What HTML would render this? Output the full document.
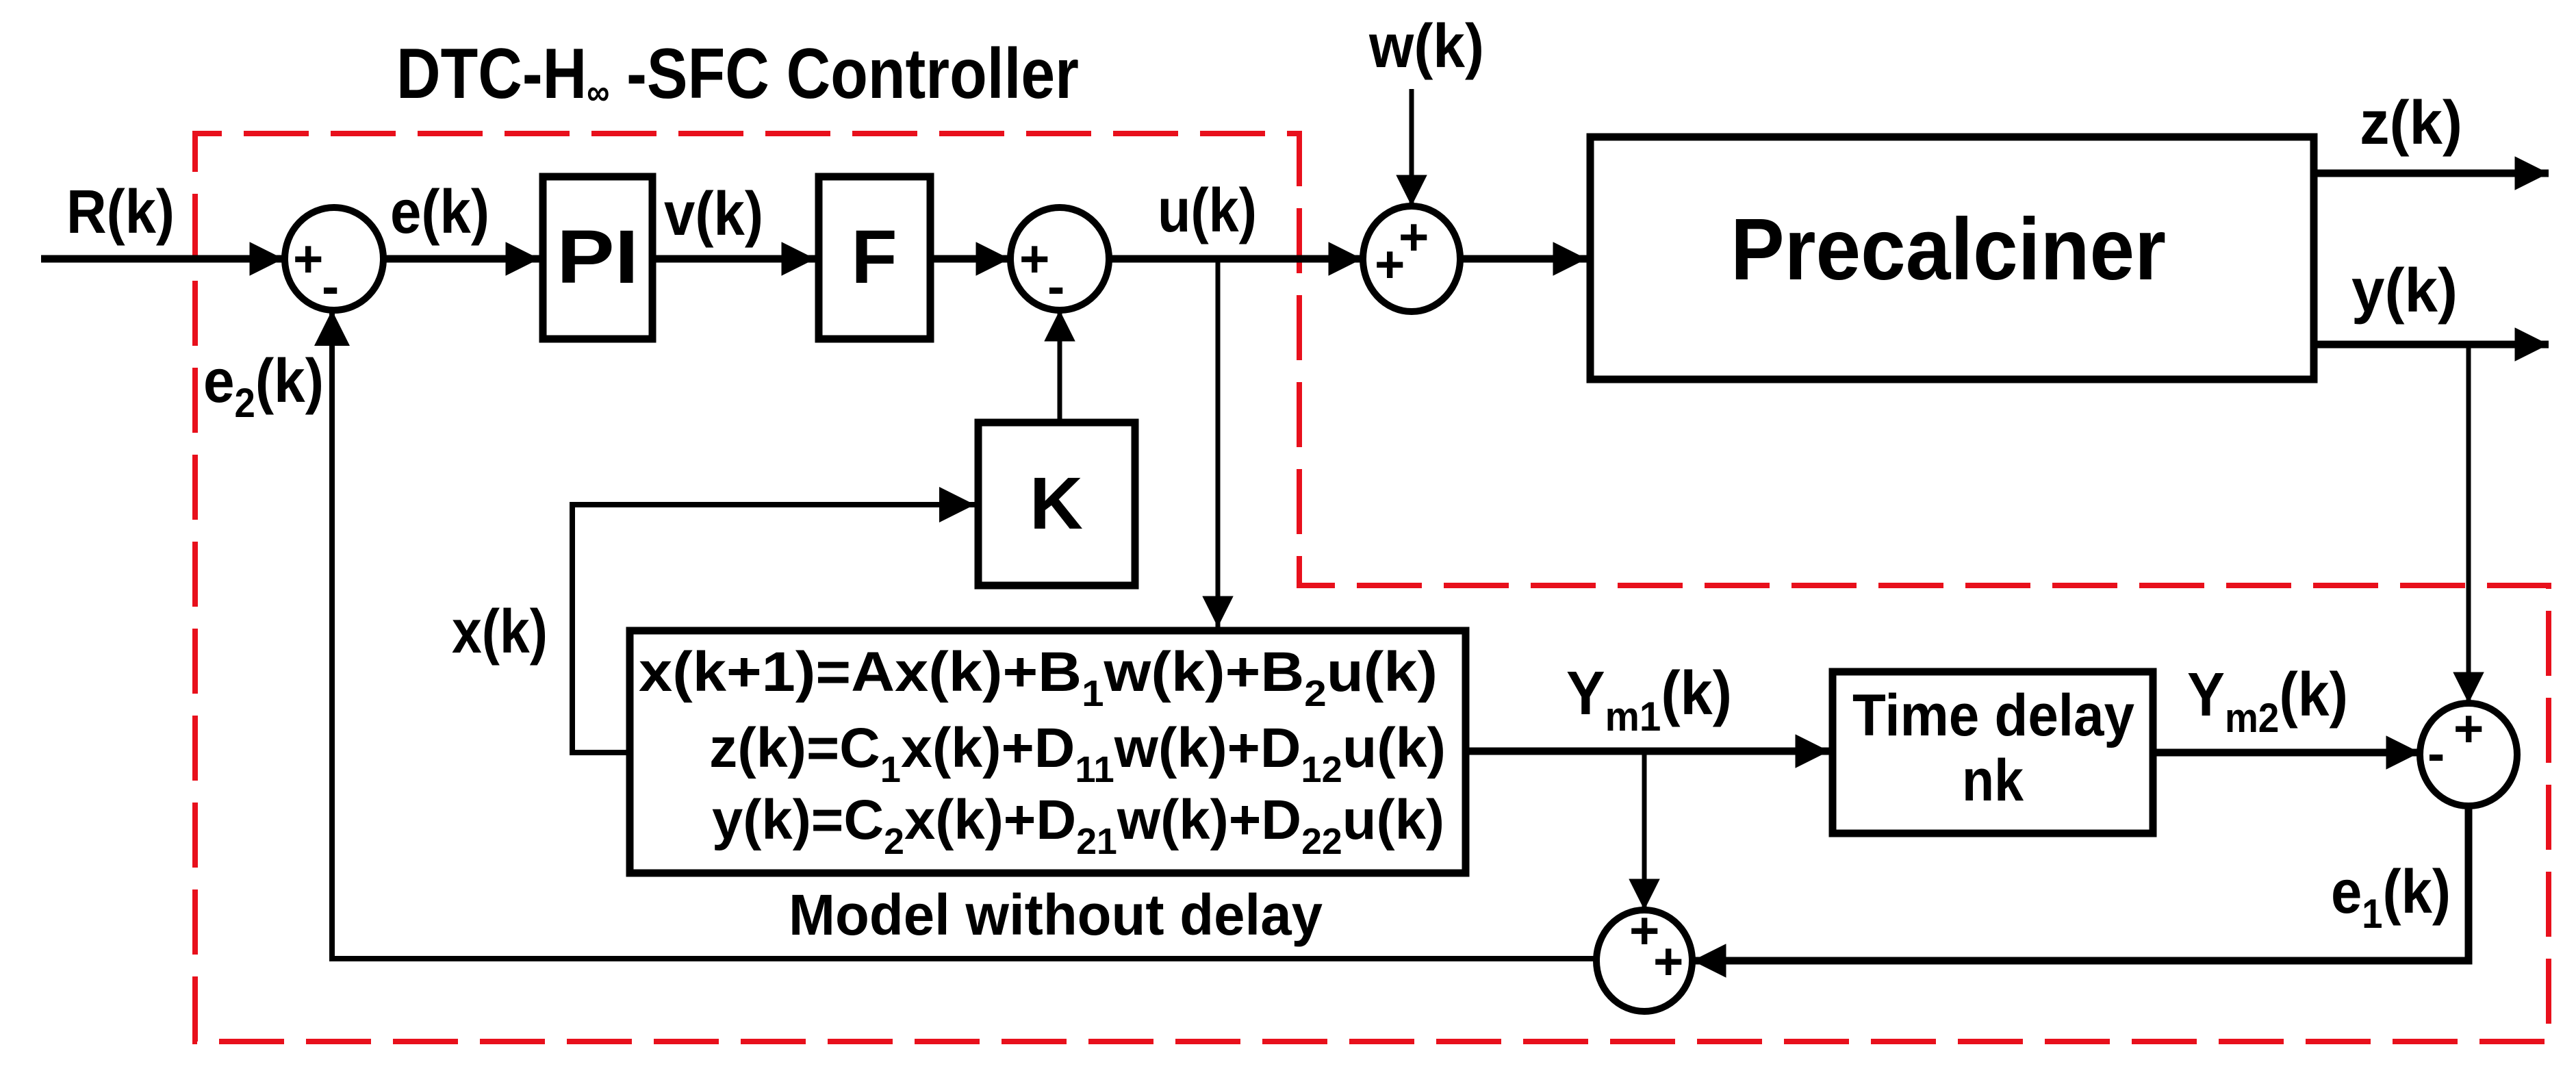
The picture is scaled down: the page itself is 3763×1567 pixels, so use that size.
<!DOCTYPE html>
<html><head><meta charset="utf-8"><style>
html,body{margin:0;padding:0;background:#fff;}
svg{display:block;}
text{font-family:"Liberation Sans",sans-serif;font-weight:bold;fill:#000;}
</style></head><body>
<svg width="3763" height="1567" viewBox="0 0 3763 1567" xmlns="http://www.w3.org/2000/svg">
<defs>
<marker id="a" viewBox="0 0 10 10" refX="10" refY="5" markerWidth="5.5" markerHeight="4.5" markerUnits="strokeWidth" orient="auto"><path d="M0,0 L10,5 L0,10 Z" fill="#000"/></marker>
<marker id="b" viewBox="0 0 10 10" refX="10" refY="5" markerWidth="9" markerHeight="6.5" markerUnits="strokeWidth" orient="auto"><path d="M0,0 L10,5 L0,10 Z" fill="#000"/></marker>
</defs>
<path d="M285,1521 V195 H1898 V855 H3723 V1521 Z" fill="none" stroke="#e8101c" stroke-width="8" stroke-dasharray="95 32"/>
<text x="579" y="143" font-size="104" textLength="997" lengthAdjust="spacingAndGlyphs">DTC-H<tspan font-size="54" dy="10">∞</tspan><tspan dy="-10"> -SFC Controller</tspan></text>

<g fill="none" stroke="#000">
<line x1="60" y1="378" x2="414" y2="378" stroke-width="11" marker-end="url(#a)"/>
<line x1="560" y1="378" x2="788" y2="378" stroke-width="11" marker-end="url(#a)"/>
<line x1="958" y1="378" x2="1191" y2="378" stroke-width="11" marker-end="url(#a)"/>
<line x1="1364" y1="378" x2="1475" y2="378" stroke-width="11" marker-end="url(#a)"/>
<line x1="1620" y1="378" x2="1990" y2="378" stroke-width="11" marker-end="url(#a)"/>
<line x1="2133" y1="378" x2="2318" y2="378" stroke-width="11" marker-end="url(#a)"/>
<line x1="3380" y1="253" x2="3723" y2="253" stroke-width="11" marker-end="url(#a)"/>
<line x1="3380" y1="503" x2="3723" y2="503" stroke-width="11" marker-end="url(#a)"/>
<line x1="2062" y1="130" x2="2062" y2="301" stroke-width="7" marker-end="url(#b)"/>
<line x1="1779" y1="378" x2="1779" y2="916" stroke-width="7" marker-end="url(#b)"/>
<line x1="1548" y1="612" x2="1548" y2="453" stroke-width="7" marker-end="url(#b)"/>
<polyline points="915,1099 836,1099 836,737 1424,737" stroke-width="8" marker-end="url(#b)"/>
<line x1="2146" y1="1097" x2="2672" y2="1097" stroke-width="11" marker-end="url(#a)"/>
<line x1="2402" y1="1097" x2="2402" y2="1329" stroke-width="7" marker-end="url(#b)"/>
<line x1="3150" y1="1099" x2="3535" y2="1099" stroke-width="11" marker-end="url(#a)"/>
<line x1="3606" y1="503" x2="3606" y2="1027" stroke-width="7" marker-end="url(#b)"/>
<polyline points="3606,1177 3606,1403 2472,1403" stroke-width="11" marker-end="url(#a)"/>
<polyline points="2332,1400 485,1400 485,453" stroke-width="8" marker-end="url(#b)"/>

<ellipse cx="488" cy="378" rx="72" ry="75" stroke-width="10"/>
<ellipse cx="1548" cy="378" rx="72" ry="75" stroke-width="10"/>
<ellipse cx="2062" cy="378" rx="71" ry="77" stroke-width="10"/>
<ellipse cx="3606" cy="1102" rx="71" ry="75" stroke-width="10"/>
<ellipse cx="2402" cy="1403" rx="70" ry="74" stroke-width="10"/>
<rect x="793" y="258" width="160" height="237" stroke-width="11"/>
<rect x="1196" y="258" width="163" height="237" stroke-width="11"/>
<rect x="1429" y="617" width="229" height="238" stroke-width="11"/>
<rect x="2323" y="200" width="1057" height="354" stroke-width="11"/>
<rect x="920" y="921" width="1221" height="354" stroke-width="11"/>
<rect x="2677" y="981" width="468" height="236" stroke-width="11"/>
</g>

<g font-size="76">
<text x="428" y="404">+</text><text x="470" y="444">-</text>
<text x="1489" y="404">+</text><text x="1530" y="444">-</text>
<text x="2008" y="412">+</text><text x="2043" y="372">+</text>
<text x="3584" y="1090">+</text><text x="3546" y="1126">-</text>
<text x="2380" y="1385">+</text><text x="2415" y="1430">+</text>
</g>

<text x="873" y="413" font-size="110" text-anchor="middle" textLength="120" lengthAdjust="spacingAndGlyphs">PI</text>
<text x="1277" y="413" font-size="110" text-anchor="middle">F</text>
<text x="1543" y="772" font-size="108" text-anchor="middle">K</text>
<text x="2528" y="408" font-size="128" textLength="636" lengthAdjust="spacingAndGlyphs">Precalciner</text>
<text x="2706" y="1074" font-size="86" textLength="412" lengthAdjust="spacingAndGlyphs">Time delay</text>
<text x="2911" y="1169" font-size="86" text-anchor="middle" textLength="90" lengthAdjust="spacingAndGlyphs">nk</text>

<text x="933" y="1009" font-size="82" textLength="1167" lengthAdjust="spacingAndGlyphs">x(k+1)=Ax(k)+B<tspan font-size="54" dy="22">1</tspan><tspan dy="-22">w(k)+B</tspan><tspan font-size="54" dy="22">2</tspan><tspan dy="-22">u(k)</tspan></text>
<text x="1036" y="1120" font-size="82" textLength="1076" lengthAdjust="spacingAndGlyphs">z(k)=C<tspan font-size="54" dy="22">1</tspan><tspan dy="-22">x(k)+D</tspan><tspan font-size="54" dy="22">11</tspan><tspan dy="-22">w(k)+D</tspan><tspan font-size="54" dy="22">12</tspan><tspan dy="-22">u(k)</tspan></text>
<text x="1040" y="1225" font-size="82" textLength="1070" lengthAdjust="spacingAndGlyphs">y(k)=C<tspan font-size="54" dy="22">2</tspan><tspan dy="-22">x(k)+D</tspan><tspan font-size="54" dy="22">21</tspan><tspan dy="-22">w(k)+D</tspan><tspan font-size="54" dy="22">22</tspan><tspan dy="-22">u(k)</tspan></text>
<text x="1152" y="1365" font-size="84" textLength="780" lengthAdjust="spacingAndGlyphs">Model without delay</text>

<g font-size="90">
<text x="97" y="340" textLength="158" lengthAdjust="spacingAndGlyphs">R(k)</text>
<text x="570" y="340" textLength="145" lengthAdjust="spacingAndGlyphs">e(k)</text>
<text x="970" y="343" textLength="145" lengthAdjust="spacingAndGlyphs">v(k)</text>
<text x="1691" y="338" textLength="145" lengthAdjust="spacingAndGlyphs">u(k)</text>
<text x="297" y="587" textLength="176" lengthAdjust="spacingAndGlyphs">e<tspan font-size="60" dy="22">2</tspan><tspan dy="-22">(k)</tspan></text>
<text x="2000" y="98" textLength="168" lengthAdjust="spacingAndGlyphs">w(k)</text>
<text x="3447" y="210" textLength="150" lengthAdjust="spacingAndGlyphs">z(k)</text>
<text x="3435" y="455" textLength="155" lengthAdjust="spacingAndGlyphs">y(k)</text>
<text x="660" y="953" textLength="140" lengthAdjust="spacingAndGlyphs">x(k)</text>
<text x="2288" y="1043" textLength="242" lengthAdjust="spacingAndGlyphs">Y<tspan font-size="60" dy="24">m1</tspan><tspan dy="-24">(k)</tspan></text>
<text x="3195" y="1045" textLength="235" lengthAdjust="spacingAndGlyphs">Y<tspan font-size="60" dy="24">m2</tspan><tspan dy="-24">(k)</tspan></text>
<text x="3405" y="1333" textLength="175" lengthAdjust="spacingAndGlyphs">e<tspan font-size="60" dy="22">1</tspan><tspan dy="-22">(k)</tspan></text>
</g>
</svg>
</body></html>
